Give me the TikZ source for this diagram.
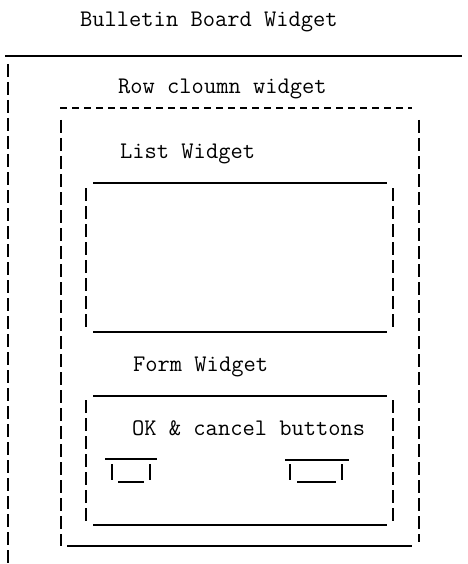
\documentclass[tikz,border=0pt]{standalone}
\begin{document}
\begin{tikzpicture}[x=1pt,y=-1pt,
  lbl/.style={anchor=base west,inner sep=0pt,font=\ttfamily\fontsize{23.8}{28}\selectfont},
  rule/.style={line width=1.1pt},
  bar/.style={line width=1.1pt,dash pattern=on 13pt off 5pt},
  hyph/.style={line width=1.1pt,dash pattern=on 7pt off 5pt}]
\useasboundingbox (0,0) rectangle (467,564);
% titles
\node[lbl] (bb) at (80,27) {Bulletin Board Widget};
\node[lbl] (rc) at (118,94) {Row cloumn widget};
\node[lbl] (lw) at (120,158) {List Widget};
\node[lbl] (fw) at (133,371) {Form Widget};
\node[lbl] (ok) at (132,435) {OK \& cancel buttons};
% bulletin board: top rule and left edge
\draw[rule] (5,56) -- (462,56);
\draw[bar] (8,64) -- (8,564);
% row column: dashed top, sides, bottom rule
\draw[hyph] (60,108) -- (412,108);
\draw[bar] (61,120) -- (61,546);
\draw[bar] (419,120) -- (419,542);
\draw[rule] (67,546) -- (412,546);
% list box
\draw[rule] (93,183) -- (387,183);
\draw[rule] (93,332) -- (387,332);
\draw[bar] (86,188) -- (86,330);
\draw[bar] (393,188) -- (393,330);
% form box
\draw[rule] (93,396) -- (387,396);
\draw[rule] (93,525) -- (387,525);
\draw[bar] (86,400) -- (86,524);
\draw[bar] (393,400) -- (393,524);
% OK button
\draw[rule] (105,459) -- (157,459);
\draw[rule] (112,464) -- (112,480);
\draw[rule] (150,464) -- (150,480);
\draw[rule] (118,482) -- (144,482);
% cancel button
\draw[rule] (285,460) -- (349,460);
\draw[rule] (290,464) -- (290,480);
\draw[rule] (342,464) -- (342,480);
\draw[rule] (297,482) -- (336,482);
\end{tikzpicture}
\end{document}
